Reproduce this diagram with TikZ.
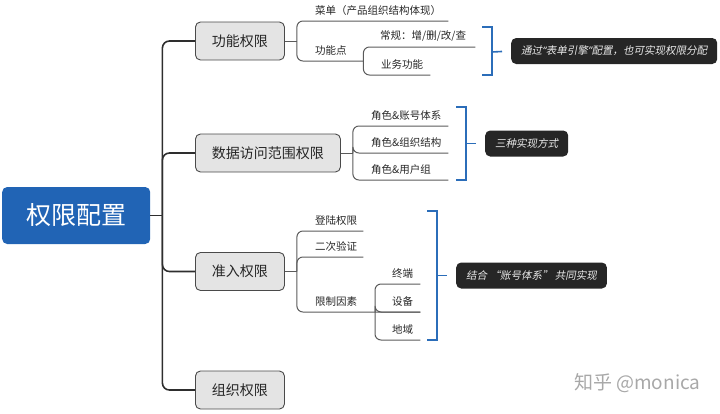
\documentclass[tikz,border=0pt]{standalone}
\usepackage{fontspec}
\setmainfont{Noto Sans CJK SC}
\newfontfamily\slantfont[FakeSlant=0.2]{Noto Sans CJK SC}
\newfontfamily\quotefont[FakeSlant=0.2]{Noto Sans}
\newcommand{\narrowquote}[1]{{\quotefont “}#1{\quotefont ”}}
\usetikzlibrary{positioning}

\definecolor{rootblue}{HTML}{2164B5}
\definecolor{topicfill}{HTML}{E4E4E4}
\definecolor{topicline}{HTML}{4A4A4A}
\definecolor{spinecol}{HTML}{2E2E2E}
\definecolor{subcol}{HTML}{5A5A5A}
\definecolor{bracecol}{HTML}{2B6DB9}
\definecolor{notefill}{HTML}{262626}
\definecolor{markgray}{HTML}{A8A8A8}

\tikzset{
  rootbox/.style={fill=rootblue, rounded corners=5pt, minimum width=148pt, minimum height=57pt,
    text=white, font=\fontsize{25}{28}\selectfont, anchor=west},
  topic/.style={draw=topicline, fill=topicfill, line width=0.9pt, rounded corners=5pt,
    minimum height=38pt, inner xsep=16.5pt, font=\fontsize{14}{16}\selectfont, text=black!85, anchor=west},
  leaf/.style={anchor=south west, inner xsep=0pt, inner ysep=5pt, align=left,
    font=\fontsize{10.5}{12}\selectfont, text=black!85},
  notebox/.style={fill=notefill, rounded corners=5pt, minimum height=26pt, inner xsep=10pt,
    text=white!92!black, font=\slantfont\fontsize{10.5}{12}\selectfont, anchor=west},
  spine/.style={draw=spinecol, line width=1.6pt, rounded corners=7pt},
  subline/.style={draw=subcol, line width=1pt, rounded corners=6pt},
  bluebrace/.style={draw=bracecol, line width=1.6pt},
}

\begin{document}
\begin{tikzpicture}[x=1pt,y=-1pt]
  \useasboundingbox (0,0) rectangle (720,413);
  % root and main topics
  \node[rootbox] (root) at (2,215.5) {权限配置};
  \node[topic] (func) at (195,41) {功能权限};
  \node[topic] (data) at (195,153) {数据访问范围权限};
  \node[topic] (admit) at (195,271.5) {准入权限};
  \node[topic] (org) at (195,390) {组织权限};
  \coordinate (rootj) at ([xshift=12pt]root.east);
  \draw[spine] (root.east) -- (rootj);
  \foreach \t in {func,data,admit,org}
    \draw[spine] (rootj) |- (\t.west);

  % function permissions
  \node[leaf, text width=133pt] (menu) at (315,21) {菜单（产品组织结构体现）};
  \node[leaf, text width=48pt] (point) at (315,61) {功能点};
  \node[leaf, text width=95pt] (crud) at (380,47) {常规：增/删/改/查};
  \node[leaf, text width=49pt] (biz) at (381,75) {业务功能};
  \coordinate (funcj) at ([xshift=12pt]func.east);
  \draw[subline] (func.east) -- (funcj);
  \foreach \l in {menu,point}
    \draw[subline] (funcj) |- (\l.south east);
  \foreach \l in {crud,biz}
    \draw[subline] (point.south east) |- (\l.south east);

  % data scope permissions
  \node[leaf, text width=77pt] (acct) at (371,126) {角色\&账号体系};
  \node[leaf, text width=77pt] (orgs) at (371,153) {角色\&组织结构};
  \node[leaf, text width=77pt] (group) at (371,180) {角色\&用户组};
  \coordinate (dataj) at ([xshift=12pt]data.east);
  \draw[subline] (data.east) -- (dataj);
  \foreach \l in {acct,orgs,group}
    \draw[subline] (dataj) |- (\l.south east);

  % admission permissions
  \node[leaf, text width=48pt] (login) at (315,231) {登陆权限};
  \node[leaf, text width=48pt] (twofa) at (315,257) {二次验证};
  \node[leaf, text width=105pt] (limit) at (315,312) {限制因素};
  \node[leaf, text width=28pt] (term) at (392,284) {终端};
  \node[leaf, text width=28pt] (device) at (392,312) {设备};
  \node[leaf, text width=28pt] (area) at (392,340) {地域};
  \coordinate (admitj) at ([xshift=12pt]admit.east);
  \coordinate (limitj) at ([xshift=60pt]limit.south west);
  \draw[subline] (admit.east) -- (admitj);
  \foreach \l in {login,twofa,limit}
    \draw[subline] (admitj) |- (\l.south east);
  \foreach \l in {term,device,area}
    \draw[subline] (limitj) |- (\l.south east);

  % blue brackets and notes
  \node[notebox] (note1) at (511,51) {通过\narrowquote{表单引擎}配置，也可实现权限分配};
  \node[notebox] (note2) at (485,143.5) {三种实现方式};
  \node[notebox] (note3) at (456,275.5) {结合 “账号体系” 共同实现};
  \draw[bluebrace] (482,27) -- (492,27) -- (492,75) -- (482,75);
  \draw[bluebrace] (456,107) -- (466,107) -- (466,180) -- (456,180);
  \draw[bluebrace] (427,211) -- (437,211) -- (437,340) -- (427,340);
  \coordinate (b1) at (492,52);
  \coordinate (b2) at (466,143.5);
  \coordinate (b3) at (437,275.5);
  \draw[bluebrace,shorten >=9pt] (b1) -- (note1.west);
  \draw[bluebrace,shorten >=9pt] (b2) -- (note2.west);
  \draw[bluebrace,shorten >=9pt] (b3) -- (note3.west);

  % watermark
  \node[font=\fontsize{19}{22}\selectfont, text=markgray, anchor=east] (mark) at (704,383) {知乎 @monica};
\end{tikzpicture}
\end{document}
